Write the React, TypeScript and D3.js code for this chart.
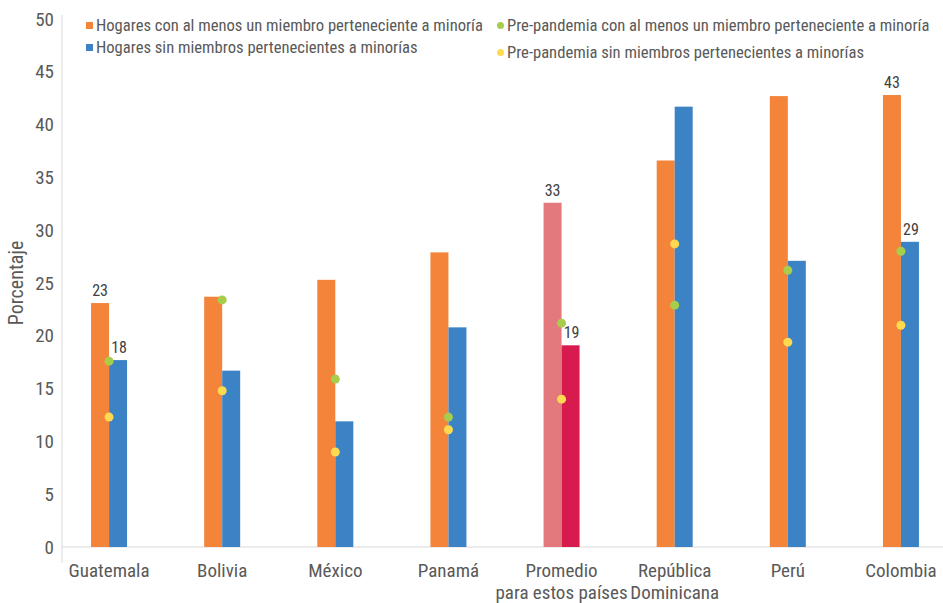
import React, { useEffect, useRef } from "react";
import * as d3 from "d3";

const categories = [
  "Guatemala",
  "Bolivia",
  "México",
  "Panamá",
  "Promedio\npara estos países",
  "República\nDominicana",
  "Perú",
  "Colombia",
];
const conMinoria = [23.1, 23.7, 25.3, 27.9, 32.6, 36.6, 42.7, 42.8];
const sinMinoria = [17.7, 16.7, 11.9, 20.8, 19.1, 41.7, 27.1, 28.9];
const preConMinoria = [17.6, 23.4, 15.9, 12.3, 21.2, 22.9, 26.2, 28.0];
const preSinMinoria = [12.3, 14.8, 9.0, 11.1, 14.0, 28.7, 19.4, 21.0];
const labeledCategories = [0, 4, 7];
const yTicks = [0, 5, 10, 15, 20, 25, 30, 35, 40, 45, 50];
const legendLabels = [
  "Hogares con al menos un miembro perteneciente a minoría",
  "Hogares sin miembros pertenecientes a minorías",
  "Pre-pandemia con al menos un miembro perteneciente a minoría",
  "Pre-pandemia sin miembros pertenecientes a minorías",
];

const W = 943;
const H = 603;
const FONT = "'Liberation Sans Narrow', 'Roboto Condensed', 'DejaVu Sans Condensed', sans-serif";
const C_ORANGE = "#F3843A";
const C_BLUE = "#3C83C5";
const C_PINK = "#E4797D";
const C_RED = "#D81B4F";
const C_GREEN = "#A6CE4A";
const C_YELLOW = "#FFD94F";
const C_TEXT = "#595959";
const C_LABEL = "#404040";

export default function App() {
  const ref = useRef<SVGSVGElement>(null);

  useEffect(() => {
    const svg = d3.select(ref.current);
    svg.selectAll("*").remove();

    const y = d3.scaleLinear().domain([0, 50]).range([547, 19]);
    const x = d3
      .scaleBand<number>()
      .domain(d3.range(categories.length))
      .range([52.5, 957.5])
      .padding(0);
    const barW = 18;
    const cx = (i: number) => (x(i) as number) + x.bandwidth() / 2;

    // axes lines
    svg
      .append("line")
      .attr("x1", 62)
      .attr("x2", W)
      .attr("y1", y(0))
      .attr("y2", y(0))
      .attr("stroke", "#d9d9d9")
      .attr("stroke-width", 1);
    svg
      .append("line")
      .attr("x1", 62)
      .attr("x2", 62)
      .attr("y1", 15)
      .attr("y2", 563)
      .attr("stroke", "#d9d9d9")
      .attr("stroke-width", 1);

    // y ticks
    svg
      .append("g")
      .selectAll("text")
      .data(yTicks)
      .join("text")
      .attr("x", 54)
      .attr("y", (d) => y(d))
      .attr("dy", "0.35em")
      .attr("text-anchor", "end")
      .attr("font-family", FONT)
      .attr("font-size", 19)
      .attr("fill", C_TEXT)
      .text((d) => d);

    // y title
    svg
      .append("text")
      .attr("transform", `translate(23,${y(25)}) rotate(-90)`)
      .attr("text-anchor", "middle")
      .attr("font-family", FONT)
      .attr("font-size", 20)
      .attr("fill", C_TEXT)
      .text("Porcentaje");

    // bars
    const g = svg.append("g");
    g.selectAll("rect.con")
      .data(conMinoria)
      .join("rect")
      .attr("class", "con")
      .attr("x", (_, i) => cx(i) - barW)
      .attr("width", barW)
      .attr("y", (d) => y(d))
      .attr("height", (d) => y(0) - y(d))
      .attr("fill", (_, i) => (i === 4 ? C_PINK : C_ORANGE));
    g.selectAll("rect.sin")
      .data(sinMinoria)
      .join("rect")
      .attr("class", "sin")
      .attr("x", (_, i) => cx(i))
      .attr("width", barW)
      .attr("y", (d) => y(d))
      .attr("height", (d) => y(0) - y(d))
      .attr("fill", (_, i) => (i === 4 ? C_RED : C_BLUE));

    // dots
    g.selectAll("circle.pc")
      .data(preConMinoria)
      .join("circle")
      .attr("class", "pc")
      .attr("cx", (_, i) => cx(i))
      .attr("cy", (d) => y(d))
      .attr("r", 4.5)
      .attr("fill", C_GREEN);
    g.selectAll("circle.ps")
      .data(preSinMinoria)
      .join("circle")
      .attr("class", "ps")
      .attr("cx", (_, i) => cx(i))
      .attr("cy", (d) => y(d))
      .attr("r", 4.5)
      .attr("fill", C_YELLOW);

    // value labels
    labeledCategories.forEach((i) => {
      g.append("text")
        .attr("x", cx(i) - barW / 2)
        .attr("y", y(conMinoria[i]) - 7)
        .attr("text-anchor", "middle")
        .attr("font-family", FONT)
        .attr("font-size", 16)
        .attr("fill", C_LABEL)
        .text(Math.round(conMinoria[i]));
      g.append("text")
        .attr("x", cx(i) + barW / 2 + 1)
        .attr("y", y(sinMinoria[i]) - 7)
        .attr("text-anchor", "middle")
        .attr("font-family", FONT)
        .attr("font-size", 16)
        .attr("fill", C_LABEL)
        .text(Math.round(sinMinoria[i]));
    });

    // category labels
    const cl = svg.append("g");
    categories.forEach((c, i) => {
      const t = cl
        .append("text")
        .attr("x", cx(i))
        .attr("y", 577)
        .attr("text-anchor", "middle")
        .attr("font-family", FONT)
        .attr("font-size", 19)
        .attr("fill", C_TEXT);
      c.split("\n").forEach((line, k) => {
        t.append("tspan")
          .attr("x", cx(i))
          .attr("dy", k === 0 ? 0 : 22)
          .text(line);
      });
    });

    // legend
    const lg = svg.append("g").attr("font-family", FONT).attr("font-size", 16.6).attr("fill", C_TEXT);
    const legendItems = [
      { x: 86, y: 25, color: C_ORANGE, shape: "rect" },
      { x: 86, y: 47, color: C_BLUE, shape: "rect" },
      { x: 497, y: 25, color: C_GREEN, shape: "circle" },
      { x: 497, y: 52, color: C_YELLOW, shape: "circle" },
    ];
    legendItems.forEach((it, k) => {
      if (it.shape === "rect") {
        lg.append("rect")
          .attr("x", it.x)
          .attr("y", it.y - 3)
          .attr("width", 7)
          .attr("height", 7)
          .attr("fill", it.color);
      } else {
        lg.append("circle")
          .attr("cx", it.x + 3.5)
          .attr("cy", it.y + 0.5)
          .attr("r", 3.5)
          .attr("fill", it.color);
      }
      lg.append("text")
        .attr("x", it.x + 10)
        .attr("y", it.y)
        .attr("dy", "0.35em")
        .text(legendLabels[k]);
    });
  }, []);

  return (
    <svg
      ref={ref}
      width={W}
      height={H}
      style={{ position: "absolute", left: 0, top: 0, background: "#fff" }}
    />
  );
}
